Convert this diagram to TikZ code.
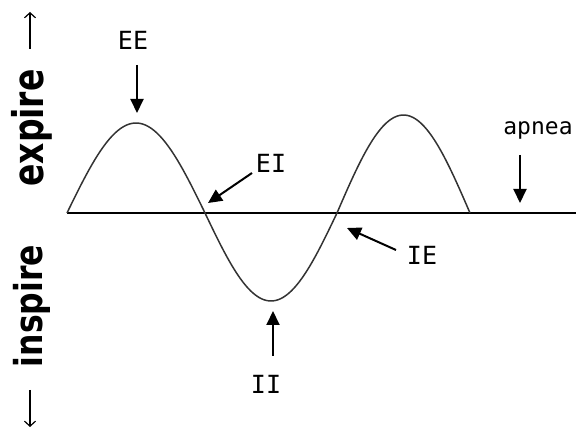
\documentclass[tikz,border=0pt]{standalone}
\usepackage{fontspec}
\setmainfont{DejaVu Sans}
\newfontfamily\lblfont{DejaVu Sans Mono}
\usetikzlibrary{arrows.meta}
\begin{document}
\begin{tikzpicture}[x=1pt,y=-1pt,
  lbl/.style={font=\lblfont\fontsize{25}{28}\selectfont, anchor=base, inner sep=0pt},
  side/.style={font=\fontsize{33}{36}\selectfont\bfseries, rotate=90, anchor=base, inner sep=0pt},
  ptr/.style={line width=2pt, -{Triangle[length=14pt,width=13pt]}},
  dirarrow/.style={line width=1.2pt, -{Straight Barb[length=5pt,width=11pt]}},
  wave/.style={line width=1.5pt, draw=black!80, line join=round},
  axis/.style={line width=2pt}]
\useasboundingbox (0,0) rectangle (576,427);

% baseline
\coordinate (a0) at (67,213);
\coordinate (a1) at (576,213);
\draw[axis] (a0) -- (a1);

% wave
\draw[wave] plot[domain=0:1, samples=50, variable=\t] ({67+138*\t},{213-90*sin(180*\t)})
  -- plot[domain=0:1, samples=50, variable=\t] ({205+132*\t},{213+88*sin(180*\t)})
  -- plot[domain=0:1, samples=50, variable=\t] ({337+133*\t},{213-98*sin(180*\t)});

% labels
\node[lbl] (ee) at (133,50) {EE};
\node[lbl] (ei) at (271,173) {EI};
\node[lbl] (ie) at (422,265) {IE};
\node[lbl] (ii) at (266,394) {II};
\node[lbl, font=\lblfont\fontsize{23}{26}\selectfont] (ap) at (538,135) {apnea};

% arrow endpoints
\coordinate (eeT) at (137,65);  \coordinate (eeH) at (137,113);
\coordinate (eiT) at (252,173); \coordinate (eiH) at (208,203);
\coordinate (ieT) at (396,250); \coordinate (ieH) at (347,228);
\coordinate (iiT) at (273,356); \coordinate (iiH) at (273,311);
\coordinate (apT) at (520,155); \coordinate (apH) at (520,203);

\draw[ptr] (eeT) -- (eeH);
\draw[ptr] (eiT) -- (eiH);
\draw[ptr] (ieT) -- (ieH);
\draw[ptr] (iiT) -- (iiH);
\draw[ptr] (apT) -- (apH);

% side labels
\node[side] (ex) at (43,128) {\scalebox{1}[1.28]{expire}};
\node[side, font=\fontsize{31.5}{36}\selectfont\bfseries] (in) at (42,306) {\scalebox{1}[1.22]{inspire}};

\coordinate (upT) at (30,49);  \coordinate (upH) at (30,12);
\coordinate (dnT) at (30,390); \coordinate (dnH) at (30,427);
\draw[dirarrow] (upT) -- (upH);
\draw[dirarrow] (dnT) -- (dnH);
\end{tikzpicture}
\end{document}
